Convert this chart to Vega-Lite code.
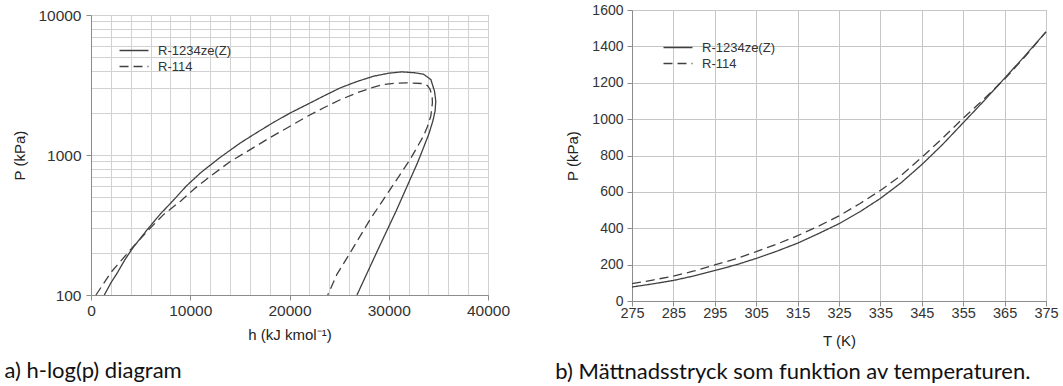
{
  "$schema": "https://vega.github.io/schema/vega-lite/v6.json",
  "background": "white",
  "padding": {"left": 4, "top": 2, "right": 0, "bottom": 0},
  "spacing": 44,
  "resolve": {"scale": {"strokeDash": "independent"}, "legend": {"strokeDash": "independent"}},
  "datasets": {
    "hlogp": [
      {"series": "R-1234ze(Z)", "i": 1, "h": 1340, "P": 100},
      {"series": "R-1234ze(Z)", "i": 2, "h": 2000, "P": 122},
      {"series": "R-1234ze(Z)", "i": 3, "h": 2680, "P": 145},
      {"series": "R-1234ze(Z)", "i": 4, "h": 3400, "P": 178},
      {"series": "R-1234ze(Z)", "i": 5, "h": 4190, "P": 216},
      {"series": "R-1234ze(Z)", "i": 6, "h": 5000, "P": 255},
      {"series": "R-1234ze(Z)", "i": 7, "h": 5700, "P": 295},
      {"series": "R-1234ze(Z)", "i": 8, "h": 7000, "P": 380},
      {"series": "R-1234ze(Z)", "i": 9, "h": 8240, "P": 470},
      {"series": "R-1234ze(Z)", "i": 10, "h": 9600, "P": 600},
      {"series": "R-1234ze(Z)", "i": 11, "h": 11060, "P": 748},
      {"series": "R-1234ze(Z)", "i": 12, "h": 13000, "P": 960},
      {"series": "R-1234ze(Z)", "i": 13, "h": 15080, "P": 1224},
      {"series": "R-1234ze(Z)", "i": 14, "h": 16800, "P": 1460},
      {"series": "R-1234ze(Z)", "i": 15, "h": 18430, "P": 1718},
      {"series": "R-1234ze(Z)", "i": 16, "h": 20100, "P": 2000},
      {"series": "R-1234ze(Z)", "i": 17, "h": 21780, "P": 2296},
      {"series": "R-1234ze(Z)", "i": 18, "h": 23500, "P": 2650},
      {"series": "R-1234ze(Z)", "i": 19, "h": 25130, "P": 3020},
      {"series": "R-1234ze(Z)", "i": 20, "h": 26800, "P": 3350},
      {"series": "R-1234ze(Z)", "i": 21, "h": 28480, "P": 3655},
      {"series": "R-1234ze(Z)", "i": 22, "h": 30000, "P": 3840},
      {"series": "R-1234ze(Z)", "i": 23, "h": 31320, "P": 3925},
      {"series": "R-1234ze(Z)", "i": 24, "h": 32660, "P": 3864},
      {"series": "R-1234ze(Z)", "i": 25, "h": 33500, "P": 3777},
      {"series": "R-1234ze(Z)", "i": 26, "h": 34240, "P": 3461},
      {"series": "R-1234ze(Z)", "i": 27, "h": 34610, "P": 2859},
      {"series": "R-1234ze(Z)", "i": 28, "h": 34740, "P": 2426},
      {"series": "R-1234ze(Z)", "i": 29, "h": 34670, "P": 2058},
      {"series": "R-1234ze(Z)", "i": 30, "h": 34440, "P": 1746},
      {"series": "R-1234ze(Z)", "i": 31, "h": 34050, "P": 1420},
      {"series": "R-1234ze(Z)", "i": 32, "h": 33500, "P": 1128},
      {"series": "R-1234ze(Z)", "i": 33, "h": 32900, "P": 880},
      {"series": "R-1234ze(Z)", "i": 34, "h": 32160, "P": 671},
      {"series": "R-1234ze(Z)", "i": 35, "h": 30750, "P": 399},
      {"series": "R-1234ze(Z)", "i": 36, "h": 28940, "P": 213},
      {"series": "R-1234ze(Z)", "i": 37, "h": 27540, "P": 130},
      {"series": "R-1234ze(Z)", "i": 38, "h": 26800, "P": 100},
      {"series": "R-114", "i": 1, "h": 500, "P": 100},
      {"series": "R-114", "i": 2, "h": 2010, "P": 145},
      {"series": "R-114", "i": 3, "h": 4190, "P": 219},
      {"series": "R-114", "i": 4, "h": 5700, "P": 287},
      {"series": "R-114", "i": 5, "h": 7300, "P": 375},
      {"series": "R-114", "i": 6, "h": 9050, "P": 470},
      {"series": "R-114", "i": 7, "h": 10500, "P": 580},
      {"series": "R-114", "i": 8, "h": 12060, "P": 708},
      {"series": "R-114", "i": 9, "h": 14000, "P": 895},
      {"series": "R-114", "i": 10, "h": 16080, "P": 1097},
      {"series": "R-114", "i": 11, "h": 18100, "P": 1340},
      {"series": "R-114", "i": 12, "h": 20100, "P": 1610},
      {"series": "R-114", "i": 13, "h": 21800, "P": 1890},
      {"series": "R-114", "i": 14, "h": 23450, "P": 2174},
      {"series": "R-114", "i": 15, "h": 25100, "P": 2480},
      {"series": "R-114", "i": 16, "h": 26800, "P": 2780},
      {"series": "R-114", "i": 17, "h": 28200, "P": 3010},
      {"series": "R-114", "i": 18, "h": 29480, "P": 3190},
      {"series": "R-114", "i": 19, "h": 30820, "P": 3259},
      {"series": "R-114", "i": 20, "h": 31830, "P": 3275},
      {"series": "R-114", "i": 21, "h": 33330, "P": 3240},
      {"series": "R-114", "i": 22, "h": 33900, "P": 3130},
      {"series": "R-114", "i": 23, "h": 34170, "P": 2938},
      {"series": "R-114", "i": 24, "h": 34370, "P": 2620},
      {"series": "R-114", "i": 25, "h": 34400, "P": 2360},
      {"series": "R-114", "i": 26, "h": 34240, "P": 1897},
      {"series": "R-114", "i": 27, "h": 33900, "P": 1600},
      {"series": "R-114", "i": 28, "h": 33500, "P": 1366},
      {"series": "R-114", "i": 29, "h": 32160, "P": 931},
      {"series": "R-114", "i": 30, "h": 30150, "P": 569},
      {"series": "R-114", "i": 31, "h": 28140, "P": 348},
      {"series": "R-114", "i": 32, "h": 26130, "P": 201},
      {"series": "R-114", "i": 33, "h": 24790, "P": 141},
      {"series": "R-114", "i": 34, "h": 23850, "P": 100}
    ],
    "psat": [
      {"series": "R-1234ze(Z)", "T": 275, "P": 77},
      {"series": "R-1234ze(Z)", "T": 280, "P": 94},
      {"series": "R-1234ze(Z)", "T": 285, "P": 113},
      {"series": "R-1234ze(Z)", "T": 290, "P": 138},
      {"series": "R-1234ze(Z)", "T": 295, "P": 168},
      {"series": "R-1234ze(Z)", "T": 300, "P": 198},
      {"series": "R-1234ze(Z)", "T": 305, "P": 234},
      {"series": "R-1234ze(Z)", "T": 310, "P": 274},
      {"series": "R-1234ze(Z)", "T": 315, "P": 318},
      {"series": "R-1234ze(Z)", "T": 320, "P": 370},
      {"series": "R-1234ze(Z)", "T": 325, "P": 425},
      {"series": "R-1234ze(Z)", "T": 330, "P": 490},
      {"series": "R-1234ze(Z)", "T": 335, "P": 564},
      {"series": "R-1234ze(Z)", "T": 340, "P": 650},
      {"series": "R-1234ze(Z)", "T": 345, "P": 750},
      {"series": "R-1234ze(Z)", "T": 350, "P": 860},
      {"series": "R-1234ze(Z)", "T": 355, "P": 980},
      {"series": "R-1234ze(Z)", "T": 360, "P": 1100},
      {"series": "R-1234ze(Z)", "T": 365, "P": 1225},
      {"series": "R-1234ze(Z)", "T": 370, "P": 1350},
      {"series": "R-1234ze(Z)", "T": 375, "P": 1480},
      {"series": "R-114", "T": 275, "P": 95},
      {"series": "R-114", "T": 280, "P": 115},
      {"series": "R-114", "T": 285, "P": 137},
      {"series": "R-114", "T": 290, "P": 165},
      {"series": "R-114", "T": 295, "P": 198},
      {"series": "R-114", "T": 300, "P": 232},
      {"series": "R-114", "T": 305, "P": 271},
      {"series": "R-114", "T": 310, "P": 313},
      {"series": "R-114", "T": 315, "P": 359},
      {"series": "R-114", "T": 320, "P": 411},
      {"series": "R-114", "T": 325, "P": 468},
      {"series": "R-114", "T": 330, "P": 535},
      {"series": "R-114", "T": 335, "P": 608},
      {"series": "R-114", "T": 340, "P": 690},
      {"series": "R-114", "T": 345, "P": 790},
      {"series": "R-114", "T": 350, "P": 895},
      {"series": "R-114", "T": 355, "P": 1005},
      {"series": "R-114", "T": 360, "P": 1110},
      {"series": "R-114", "T": 365, "P": 1220},
      {"series": "R-114", "T": 370, "P": 1345},
      {"series": "R-114", "T": 375, "P": 1480}
    ]
  },
  "config": {
    "font": "Liberation Sans",
    "view": {"stroke": "#8c8c8c", "strokeWidth": 1},
    "axis": {
      "labelFont": "Liberation Sans",
      "labelColor": "#333333",
      "titleFont": "Liberation Sans",
      "titleFontSize": 15,
      "titleFontWeight": "normal",
      "titleColor": "#222222",
      "domainColor": "#8c8c8c",
      "tickColor": "#8c8c8c",
      "tickSize": 5,
      "grid": true,
      "gridColor": "#d2d2d2"
    },
    "legend": {
      "orient": "none",
      "title": null,
      "symbolType": "M-2,0L2,0",
      "symbolSize": 210,
      "symbolStrokeColor": "#404040",
      "symbolFillColor": "transparent",
      "symbolStrokeWidth": 1.3,
      "labelFont": "Liberation Sans",
      "labelFontSize": 13,
      "labelColor": "#333333",
      "labelOffset": 16,
      "rowPadding": 1,
      "padding": 0
    }
  },
  "hconcat": [
    {
      "title": {"text": "a) h-log(p) diagram", "orient": "bottom", "anchor": "start", "frame": "bounds", "font": "Lato", "fontSize": 22, "fontWeight": "normal", "color": "#111111", "dx": -7.5, "offset": 18},
      "spacing": -4,
      "vconcat": [
        {
          "width": 1,
          "height": 1,
          "view": {"stroke": null},
          "data": {"values": []},
          "mark": {"type": "point", "opacity": 0}
        },
        {
          "width": 397,
          "height": 280,
          "data": {"name": "hlogp"},
          "mark": {"type": "line", "color": "#404040", "strokeWidth": 1.3},
          "encoding": {
            "x": {
              "field": "h", "type": "quantitative",
              "scale": {"domain": [0, 40000], "nice": false},
              "axis": {
                "title": "h (kJ kmol⁻¹)",
                "values": [0, 2000, 4000, 6000, 8000, 10000, 12000, 14000, 16000, 18000, 20000, 22000, 24000, 26000, 28000, 30000, 32000, 34000, 36000, 38000, 40000],
                "format": "d",
                "labelExpr": "datum.value % 10000 === 0 ? datum.label : ''",
                "tickOpacity": {"condition": {"test": "datum.value % 10000 === 0", "value": 1}, "value": 0},
                "labelFontSize": 15.5,
                "labelPadding": 3,
                "labelFlush": false,
                "titlePadding": 9
              }
            },
            "y": {
              "field": "P", "type": "quantitative",
              "scale": {"type": "log", "domain": [100, 10000], "nice": false},
              "axis": {
                "title": "P (kPa)",
                "values": [100, 200, 300, 400, 500, 600, 700, 800, 900, 1000, 2000, 3000, 4000, 5000, 6000, 7000, 8000, 9000, 10000],
                "format": "d",
                "labelExpr": "(datum.value === 100 || datum.value === 1000 || datum.value === 10000) ? datum.label : ''",
                "tickOpacity": {"condition": {"test": "datum.value === 100 || datum.value === 1000 || datum.value === 10000", "value": 1}, "value": 0},
                "labelFontSize": 15.5,
                "labelPadding": 5,
                "labelFlush": false,
                "titlePadding": 10.5
              }
            },
            "strokeDash": {
              "field": "series", "type": "nominal",
              "scale": {"domain": ["R-1234ze(Z)", "R-114"], "range": [[1, 0], [9, 5]]},
              "legend": {"legendX": 35, "legendY": 32.5}
            },
            "order": {"field": "i", "type": "quantitative"}
          }
        }
      ]
    },
    {
      "title": {"text": "b) Mättnadsstryck som funktion av temperaturen.", "orient": "bottom", "anchor": "start", "frame": "bounds", "font": "Lato", "fontSize": 22, "fontWeight": "normal", "color": "#111111", "dx": -9.5, "offset": 13},
      "vconcat": [
        {
          "width": 414,
          "height": 291,
          "data": {"name": "psat"},
          "mark": {"type": "line", "color": "#404040", "strokeWidth": 1.3},
          "encoding": {
            "x": {
              "field": "T", "type": "quantitative",
              "scale": {"domain": [275, 375], "nice": false},
              "axis": {
                "title": "T (K)",
                "values": [275, 285, 295, 305, 315, 325, 335, 345, 355, 365, 375],
                "labelFontSize": 14.5,
                "labelPadding": 0,
                "labelFlush": false,
                "titlePadding": 14,
                "gridColor": "#c6c6c6"
              }
            },
            "y": {
              "field": "P", "type": "quantitative",
              "scale": {"domain": [0, 1600], "nice": false},
              "axis": {
                "title": "P (kPa)",
                "values": [0, 200, 400, 600, 800, 1000, 1200, 1400, 1600],
                "format": "d",
                "labelFontSize": 14,
                "labelPadding": 4,
                "labelFlush": false,
                "titlePadding": 11.5,
                "gridColor": "#c6c6c6"
              }
            },
            "strokeDash": {
              "field": "series", "type": "nominal",
              "scale": {"domain": ["R-1234ze(Z)", "R-114"], "range": [[1, 0], [9, 5]]},
              "legend": {"legendX": 38, "legendY": 29.5}
            },
            "order": {"field": "T", "type": "quantitative"}
          }
        }
      ]
    }
  ]
}
